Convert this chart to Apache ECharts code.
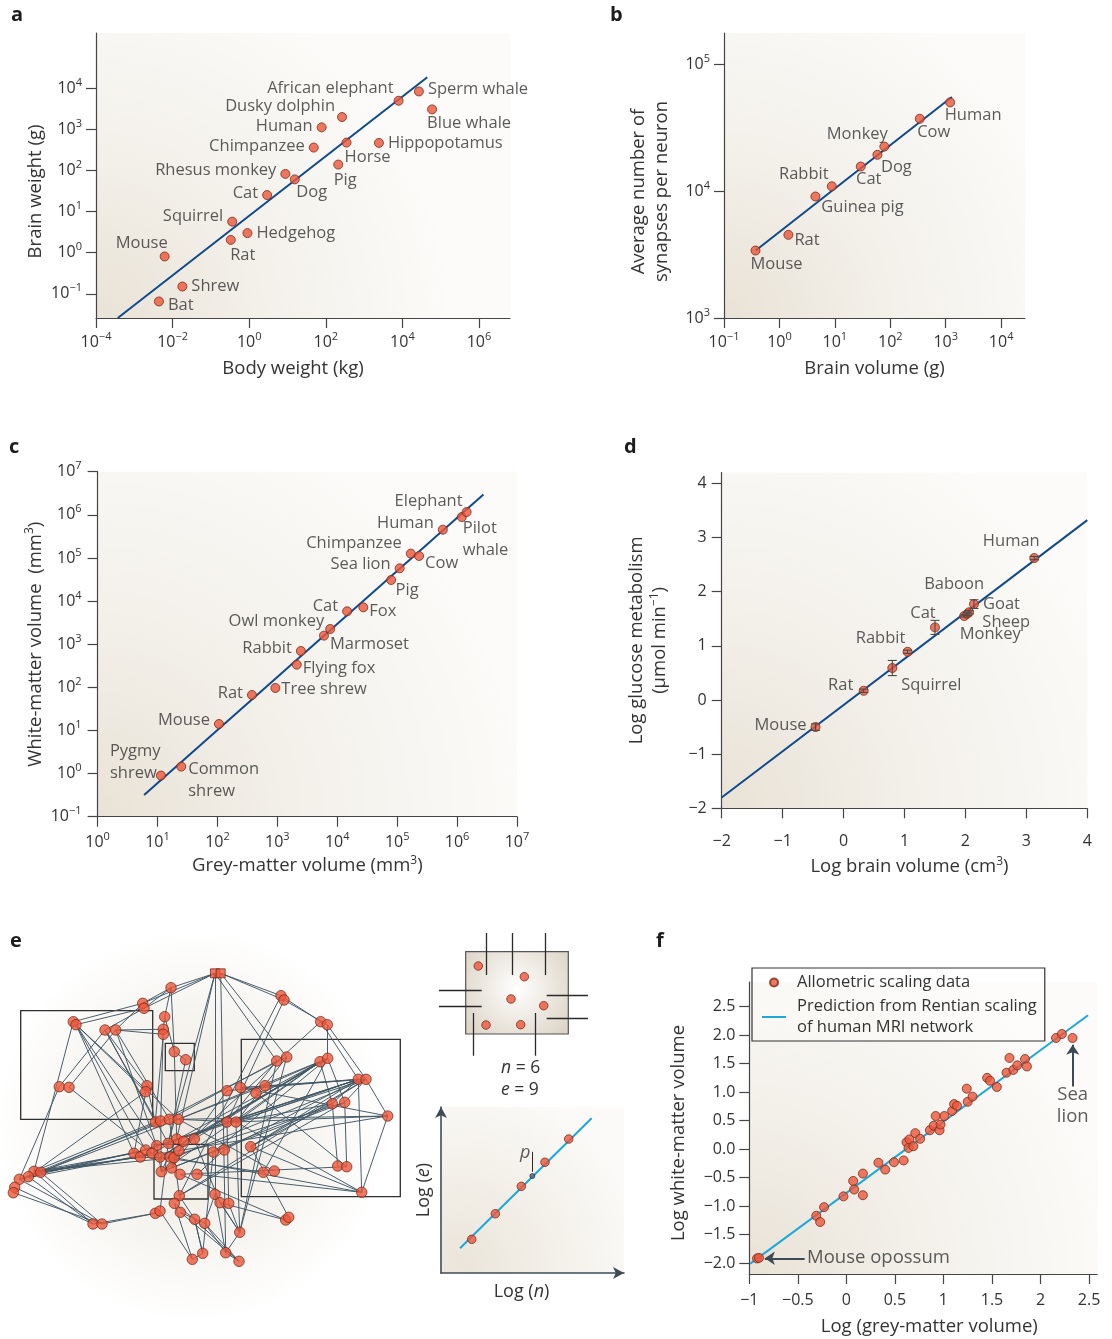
<!DOCTYPE html>
<html><head><meta charset="utf-8">
<script src="https://cdn.jsdelivr.net/npm/echarts@6/dist/echarts.min.js"></script>
<style>html,body{margin:0;padding:0;background:#fff}#c{width:1112px;height:1339px}</style>
</head><body><div id="c"></div>
<script>
// ================= DATA =================
// Panel a: body weight (kg) vs brain weight (g)
const aNames = ['Bat','Shrew','Mouse','Rat','Squirrel','Hedgehog','Cat','Rhesus monkey','Dog','Chimpanzee','Human','Dusky dolphin','Pig','Horse','Hippopotamus','African elephant','Sperm whale','Blue whale'];
const aBody  = [0.0044,0.018,0.0062,0.33,0.36,0.9,2.94,8.8,15.5,48.4,78,265,211,348,2440,7960,27000,59600];
const aBrain = [0.065,0.15,0.81,2.05,5.7,3.0,25.3,83,61,363,1130,2010,140,480,471,5010,8450,3090];
const aFitX = [0.00037,44700], aFitY = [0.0257,18800];
const aTicksX = [-4,-2,0,2,4,6], aTicksY = [-1,0,1,2,3,4];

// Panel b: brain volume (g) vs synapses per neuron
const bNames = ['Mouse','Rat','Guinea pig','Rabbit','Cat','Dog','Monkey','Cow','Human'];
const bVol   = [0.37,1.45,4.45,8.8,29.3,58.5,78,340,1200];
const bSyn   = [3400,4520,9060,10900,15600,19300,22400,37100,49900];
const bFitX = [0.373,1290], bFitY = [3400,55000];
const bTicksX = [-1,0,1,2,3,4], bTicksY = [3,4,5];

// Panel c: grey-matter vs white-matter volume (mm3)
const cNames = ['Pygmy\nshrew','Common\nshrew','Mouse','Rat','Tree shrew','Flying fox','Rabbit','Marmoset','Owl monkey','Cat','Fox','Pig','Sea lion','Chimpanzee','Cow','Human','Pilot\nwhale','Elephant'];
const cGrey  = [11.4,24.9,106,377,927,2110,2470,6000,7620,14600,27200,79300,110000,169000,232000,578000,1197000,1442000];
const cWhite = [0.90,1.45,14.1,66.4,96.6,335,695,1580,2250,5780,7160,30800,57400,126000,111000,452000,889000,1161000];
const cFitX = [5.97,2754000], cFitY = [0.319,2979000];
const cTicksX = [0,1,2,3,4,5,6,7], cTicksY = [-1,0,1,2,3,4,5,6,7];

// Panel d: log brain volume vs log glucose metabolism (with error)
const dNames = ['Mouse','Rat','Squirrel','Rabbit','Cat','Monkey','Sheep','Baboon','Goat','Human'];
const dX   = [-0.46,0.33,0.80,1.05,1.50,1.98,2.03,2.06,2.14,3.13];
const dY   = [-0.50,0.17,0.59,0.89,1.34,1.55,1.59,1.62,1.77,2.62];
const dErr = [0.06,0.03,0.14,0.03,0.13,0.02,0.03,0.03,0.08,0.03];
const dFitX = [-2,4], dFitY = [-1.80,3.32];
const dTicks = [-2,-1,0,1,2,3,4];

// Panel f: log grey-matter vs log white-matter volume
const fX = [-0.92,-0.90,-0.31,-0.27,-0.23,-0.03,0.07,0.08,0.17,0.17,0.33,0.40,0.49,0.59,0.62,0.64,0.65,0.69,0.71,0.76,0.86,0.90,0.92,0.96,0.97,1.01,1.09,1.11,1.14,1.24,1.25,1.30,1.45,1.48,1.55,1.65,1.68,1.72,1.76,1.84,1.86,2.16,2.22,2.33];
const fY = [-1.92,-1.91,-1.17,-1.28,-1.02,-0.83,-0.56,-0.71,-0.43,-0.81,-0.24,-0.36,-0.23,-0.20,0.12,0.02,0.17,0.05,0.28,0.18,0.33,0.41,0.58,0.33,0.43,0.58,0.67,0.79,0.76,1.06,0.83,0.92,1.25,1.20,1.09,1.34,1.60,1.39,1.47,1.58,1.45,1.95,2.02,1.95];
const fFitX = [-0.99,2.49], fFitY = [-2.01,2.35];
const fTicksX = [-1,-0.5,0,0.5,1,1.5,2,2.5], fTicksY = [-2,-1.5,-1,-0.5,0,0.5,1,1.5,2,2.5];

// Panel e: network layout (node positions in layout units), hubs, edges, partition boxes
const netNodes = [[215,43.3],[220.7,43.3],[171,57.7],[142.7,73.3],[144,78.3],[281,65.7],[284,70],[73.3,91.7],[76,94.7],[105,100],
[115.7,100],[164.7,86.7],[163.3,99.3],[163.3,104.3],[320.7,91.7],[327.3,94.7],[174.3,121.7],[185.7,129.7],[276.7,131],[286.7,127],
[320,131.7],[327.7,128.3],[358.3,149.3],[366,149.3],[59.3,156.7],[69,157.3],[147,155.7],[145.7,161.7],[227,160.7],[240.7,157.7],
[265,155.7],[256,163],[332.3,173.7],[344.7,172.3],[387.7,186],[155.3,192],[160.7,191],[169.3,189.3],[178.3,189.3],[227,192],
[236,192],[176.7,209],[183.7,211.3],[194.3,209],[156.7,215.7],[168.3,213.3],[213.3,222],[224.3,220],[250.7,216.7],[134,223.3],
[140.3,227],[145.7,220],[152,223.3],[160,227],[170,227],[174,227.7],[179,220.7],[337.7,236],[346.7,236.7],[34,241.3],
[40.7,242.3],[28.3,246.7],[19.3,249.3],[14.7,257.3],[13.3,262.7],[161.3,241.7],[171.7,238],[180,244.3],[197,244.3],[263.3,242.3],
[274.3,241],[361.7,262.3],[179.3,265.7],[215,264.3],[220,272.7],[228.7,273.3],[174.3,273.3],[155.3,283.3],[160,281],[180.3,282.3],
[194.7,289.3],[204.7,293.3],[285.7,290],[288.7,287.3],[93,294],[102,294],[239.7,302.3],[202.7,323.3],[225.7,322.7],[192.3,329.3],
[239,331.3]];
const netHubs = [0,1];
const netEdges = [[0,2],[0,3],[0,4],[1,5],[1,6],[1,19],[0,18],[1,88],[0,73],[0,45],[0,41],[2,3],[2,4],[2,16],[2,11],
[3,7],[4,8],[3,10],[4,9],[7,59],[8,27],[8,44],[10,12],[10,13],[9,35],[10,37],[9,45],[10,44],[5,14],[6,15],[6,39],[5,72],
[14,22],[15,23],[15,21],[23,34],[22,71],[22,32],[23,33],[22,40],[22,39],[23,48],[22,29],[34,71],[34,40],[34,38],
[20,32],[21,33],[20,40],[21,38],[18,39],[19,40],[18,37],[19,36],[18,86],[16,17],[17,45],[16,41],[11,16],[11,12],
[13,35],[12,36],[26,9],[27,61],[26,35],[24,9],[25,10],[25,52],[24,62],[28,22],[29,23],[28,66],[29,34],[30,20],[31,58],[30,38],
[32,57],[33,58],[32,40],[35,59],[36,60],[37,62],[38,40],[37,72],[36,65],[40,71],[39,75],[40,86],[41,22],[42,21],[43,20],[41,65],[43,74],
[46,21],[47,22],[46,87],[48,22],[48,83],[48,32],[49,59],[50,60],[51,61],[52,62],[49,26],[51,8],[50,53],[53,20],[54,33],[55,23],[56,14],
[59,84],[60,85],[61,84],[62,85],[63,84],[64,85],[59,60],[59,50],[60,51],[61,38],[59,55],[60,56],
[65,20],[66,32],[67,58],[68,71],[65,44],[66,42],[68,47],[69,53],[70,38],[69,21],[71,55],[71,48],[72,33],[72,23],[72,80],
[73,81],[74,86],[75,86],[73,88],[74,82],[76,80],[76,89],[77,84],[78,45],[79,90],[79,81],[80,87],[81,88],[80,90],[81,90],[82,67],
[85,77],[86,88],[86,73],[86,19],[87,89],[88,90],[87,80],[89,78],[22,49],[23,51],[34,56],[20,52],[21,53],[33,65],[8,38],[8,49]];
const netBoxes = [[[20.7,80.7],[152.7,189.3]],[[165.3,113.3],[194.3,140.7]],[[154,214.3],[208,269]],[[241.3,109.3],[400.3,266.7]]];

// Panel e inset: partition schematic (n = 6, e = 9)
const insetNodes = [[478.3,966],[524.3,976.7],[511,999],[543.7,1005.7],[486,1025],[520.7,1024.7]];
const insetCut = [[[486.7,933],[486.7,975]],[[512,933],[512,975]],[[545,933],[545,975]],[[439,990],[481.7,990]],[[439,1006],[481.7,1006]],
[[546.7,995.7],[588,995.7]],[[546.7,1018.3],[588,1018.3]],[[473.3,1013],[473.3,1055.7]],[[535,1013],[535,1055.7]]];
const insetBox = [[465.7,951.7],[568.3,1034]];
// Panel e Rent plot: log(n) vs log(e)
const rentX = [1.68,2.97,4.39,5.68,6.98], rentY = [2.03,3.57,5.22,6.67,8.07];
const rentFitX = [1.04,8.23], rentFitY = [1.49,9.32];
const rentP = [4.99,5.84];

// ================= STYLE =================
const FONT = 'Open Sans';
const TXT = '#333333';
const AX = '#454545';
const RED = '#ec5639', RED_B = '#7c2a18';
const NAVY = '#0e4a8c', CYAN = '#1ba8dc';
const supRich = { s: { fontSize: 11, fontFamily: FONT, color: TXT, verticalAlign: 'top', lineHeight: 12 } };
const nameRich = { s: { fontSize: 12, fontFamily: FONT, color: TXT, verticalAlign: 'top', lineHeight: 12 } };
const plotBg = { type: 'radial', x: 0, y: 1, r: 1.25, colorStops: [
  { offset: 0, color: '#e9e2d6' }, { offset: 0.45, color: '#f3f0ea' }, { offset: 1, color: '#fcfbf9' }] };

const minus = v => (v < 0 ? '\u2212' : '') + Math.abs(v);
const powFmt = v => { const e = Math.round(v); return '10{s|' + minus(e) + '}'; };

function axis(o) {
  return {
    type: 'value', gridIndex: o.g, min: o.min, max: o.max,
    splitLine: { show: false },
    axisLine: { show: true, onZero: false, lineStyle: { color: AX, width: 1.2 } },
    axisTick: { show: true, length: 10, lineStyle: { color: AX, width: 1.2 }, customValues: o.vals },
    axisLabel: { show: true, margin: o.margin, customValues: o.vals, formatter: o.fmt, color: TXT, fontSize: 16,
      fontFamily: FONT, lineHeight: 22, rich: supRich, showMinLabel: true, showMaxLabel: true },
    name: o.name, nameLocation: 'middle', nameGap: o.gap,
    nameTextStyle: { color: TXT, fontSize: 18.5, fontFamily: FONT, lineHeight: 23, padding: o.pad || 0, rich: nameRich }
  };
}
function hidden(g, min, max, inv) {
  return { type: 'value', gridIndex: g, min: min, max: max, inverse: !!inv, show: false, splitLine: { show: false } };
}

function pts(xs, ys, names, labs, toLog) {
  return names.map((n, i) => {
    const l = labs[i];
    const lab = { position: l[0], offset: [l[1], l[2]] };
    if (l[3]) lab.align = l[3];
    return { name: n, value: toLog ? [Math.log10(xs[i]), Math.log10(ys[i])] : [xs[i], ys[i]], label: lab };
  });
}
const ptLabel = { show: true, formatter: '{b}', color: TXT, fontSize: 16.5, fontFamily: FONT, lineHeight: 22, distance: 4 };
const ptStyle = { color: RED, borderColor: RED_B, borderWidth: 1 };
function scatter(g, data, size) {
  return { type: 'scatter', xAxisIndex: g, yAxisIndex: g, data: data, symbolSize: size || 9, itemStyle: ptStyle,
    label: ptLabel, z: 4, silent: true };
}
function fit(g, xs, ys, toLog, color, name) {
  return { type: 'line', name: name, xAxisIndex: g, yAxisIndex: g, showSymbol: false, symbol: 'none', silent: true, z: 3,
    data: xs.map((x, i) => toLog ? [Math.log10(x), Math.log10(ys[i])] : [x, ys[i]]),
    itemStyle: { color: color }, lineStyle: { color: color, width: 2 } };
}

// label placement [position, dx, dy, align]
const aLab = [['right',0,4],['right',0,0],['inside',-23,-13],['inside',12,15],['left',0,-5],['right',0,0],['left',0,-2],['left',0,-4],
  ['inside',17,13],['left',0,-1],['left',0,-1],['left',2,-11],['inside',7,16],['inside',21,15],['right',0,0],['left',4,-12],['right',0,-2],['inside',37,14]];
const bLab = [['inside',21,14],['right',-3,5],['right',-3,11],['inside',-28,-12],['inside',8,13],['inside',19,12],['inside',-27,-12],['inside',14,14],['inside',23,13]];
const cLab = [['inside',-51,-13,'left'],['inside',7,14,'left'],['left',0,-4],['left',0,-2],['right',-3,1],['right',-3,4],['left',0,-3],['right',-3,9],
  ['left',3,-8],['left',0,-5],['right',-3,4],['inside',16,10],['left',0,-4],['left',0,-10],['right',-3,7],['left',0,-6],['inside',1,22,'left'],['inside',-38,-11]];
const dLab = [['left',0,-2],['inside',-23,-5],['inside',39,17],['inside',-27,-13],['inside',-12,-14],['inside',26,18],['inside',39,8],['inside',-15,-28],['right',0,0],['inside',-23,-17]];

const grids = [
  { left: 96, top: 33, width: 414, height: 285, show: true, backgroundColor: plotBg, borderWidth: 0 },
  { left: 724, top: 33, width: 301, height: 285, show: true, backgroundColor: plotBg, borderWidth: 0 },
  { left: 97.6, top: 471.7, width: 419.4, height: 345, show: true, backgroundColor: plotBg, borderWidth: 0 },
  { left: 721.7, top: 472.5, width: 365.6, height: 335.8, show: true, backgroundColor: plotBg, borderWidth: 0 },
  { left: 749.3, top: 982, width: 348, height: 292.3, show: true, backgroundColor: plotBg, borderWidth: 0 },
  { left: 0, top: 930, width: 420, height: 409, show: true, borderWidth: 0,
    backgroundColor: { type: 'radial', x: 0.46, y: 0.48, r: 0.48, colorStops: [{ offset: 0, color: '#eee8df' }, { offset: 0.6, color: '#f7f5f1' }, { offset: 1, color: '#ffffff' }] } },
  { left: 430, top: 925, width: 170, height: 140, show: false },
  { left: 441, top: 1107, width: 183, height: 166, show: true, borderWidth: 0,
    backgroundColor: { type: 'radial', x: 0.1, y: 0.95, r: 1.1, colorStops: [{ offset: 0, color: '#ebe5da' }, { offset: 1, color: '#fbfaf8' }] } }
];

const xAxes = [
  axis({ g: 0, min: -4, max: 6.81, vals: aTicksX, fmt: powFmt, margin: 13, name: 'Body weight (kg)', gap: 39, pad: [0, 20, 0, 0] }),
  axis({ g: 1, min: -1, max: 4.43, vals: bTicksX, fmt: powFmt, margin: 13, name: 'Brain volume (g)', gap: 39 }),
  axis({ g: 2, min: 0, max: 7, vals: cTicksX, fmt: powFmt, margin: 15, name: 'Grey-matter volume (mm{s|3})', gap: 38 }),
  axis({ g: 3, min: -2, max: 4, vals: dTicks, fmt: minus, margin: 22, name: 'Log brain volume (cm{s|3})', gap: 47, pad: [0, 0, 0, 10] }),
  axis({ g: 4, min: -1, max: 2.585, vals: fTicksX, fmt: minus, margin: 15, name: 'Log (grey-matter volume)', gap: 41, pad: [0, 0, 0, 12] }),
  hidden(5, 0, 420),
  hidden(6, 430, 600),
  { type: 'value', gridIndex: 7, min: 0, max: 10, splitLine: { show: false }, axisTick: { show: false }, axisLabel: { show: false },
    axisLine: { show: true, onZero: false, symbol: ['none', 'arrow'], symbolSize: [9, 11], lineStyle: { color: '#3e4c58', width: 1.6 } },
    name: 'Log ({i|n})', nameLocation: 'middle', nameGap: 10,
    nameTextStyle: { color: TXT, fontSize: 18, fontFamily: FONT, padding: [0, 22, 0, 0], rich: { i: { fontStyle: 'italic', fontSize: 18, fontFamily: FONT, color: TXT } } } }
];
const yAxes = [
  axis({ g: 0, min: -1.59, max: 5.35, vals: aTicksY, fmt: powFmt, margin: 14, name: 'Brain weight (g)', gap: 47, pad: [0, 32, 0, 0] }),
  axis({ g: 1, min: 3, max: 5.245, vals: bTicksY, fmt: powFmt, margin: 14, name: 'Average number of\nsynapses per neuron', gap: 51, pad: [0, 32, 0, 0] }),
  axis({ g: 2, min: -1, max: 7, vals: cTicksY, fmt: powFmt, margin: 16, name: 'White-matter volume  (mm{s|3})', gap: 50 }),
  axis({ g: 3, min: -2, max: 4.2, vals: dTicks, fmt: minus, margin: 15, name: 'Log glucose metabolism\n(\u03bcmol min{s|\u22121})', gap: 50 }),
  axis({ g: 4, min: -2.193, max: 2.933, vals: fTicksY, fmt: v => (v < 0 ? '\u2212' : '') + Math.abs(v).toFixed(1), margin: 14, name: 'Log white-matter volume', gap: 59, pad: [0, 10, 0, 0] }),
  hidden(5, 0, 409, true),
  hidden(6, 925, 1065, true),
  { type: 'value', gridIndex: 7, min: 0, max: 10, splitLine: { show: false }, axisTick: { show: false }, axisLabel: { show: false },
    axisLine: { show: true, onZero: false, symbol: ['none', 'arrow'], symbolSize: [9, 11], lineStyle: { color: '#3e4c58', width: 1.6 } },
    name: 'Log ({i|e})', nameLocation: 'middle', nameGap: 8,
    nameTextStyle: { color: TXT, fontSize: 18, fontFamily: FONT, rich: { i: { fontStyle: 'italic', fontSize: 18, fontFamily: FONT, color: TXT } } } }
];

const series = [];
// a
series.push(fit(0, aFitX, aFitY, true, NAVY));
series.push(scatter(0, pts(aBody, aBrain, aNames, aLab, true)));
// b
series.push(fit(1, bFitX, bFitY, true, NAVY));
series.push(scatter(1, pts(bVol, bSyn, bNames, bLab, true)));
// c
series.push(fit(2, cFitX, cFitY, true, NAVY));
series.push(scatter(2, pts(cGrey, cWhite, cNames, cLab, true)));
// d
series.push(fit(3, dFitX, dFitY, false, NAVY));
series.push(scatter(3, pts(dX, dY, dNames, dLab, false)));
series.push({ type: 'custom', xAxisIndex: 3, yAxisIndex: 3, z: 5, silent: true,
  data: dX.map((x, i) => [x, dY[i] - dErr[i], dY[i] + dErr[i]]),
  renderItem: (params, api) => {
    const x = api.value(0), lo = api.coord([x, api.value(1)]), hi = api.coord([x, api.value(2)]), w = 4.5;
    const st = { stroke: '#4a4a4a', lineWidth: 1.1 };
    return { type: 'group', children: [
      { type: 'line', shape: { x1: lo[0], y1: lo[1], x2: hi[0], y2: hi[1] }, style: st },
      { type: 'line', shape: { x1: lo[0] - w, y1: lo[1], x2: lo[0] + w, y2: lo[1] }, style: st },
      { type: 'line', shape: { x1: hi[0] - w, y1: hi[1], x2: hi[0] + w, y2: hi[1] }, style: st }] };
  } });
// f
series.push(fit(4, fFitX, fFitY, false, CYAN, 'Prediction from Rentian scaling\nof human MRI network'));
series.push({ type: 'scatter', name: 'Allometric scaling data', xAxisIndex: 4, yAxisIndex: 4, symbolSize: 9, itemStyle: ptStyle, z: 4, silent: true,
  data: fX.map((x, i) => [x, fY[i]]) });
series.push({ type: 'lines', coordinateSystem: 'cartesian2d', xAxisIndex: 4, yAxisIndex: 4, silent: true, z: 5,
  symbol: ['none', 'arrow'], symbolSize: 10, lineStyle: { color: '#3d4a55', width: 2, opacity: 1 },
  data: [{ coords: [[-0.43, -1.917], [-0.84, -1.917]] }, { coords: [[2.332, 1.10], [2.332, 1.83]] }] });
series.push({ type: 'scatter', xAxisIndex: 4, yAxisIndex: 4, symbolSize: 1, itemStyle: { color: 'rgba(0,0,0,0)' }, silent: true, z: 5,
  label: { show: true, formatter: '{b}', color: TXT, fontSize: 18.5, fontFamily: FONT, lineHeight: 22 },
  data: [{ name: 'Mouse opossum', value: [-0.42, -1.913], label: { position: 'right', distance: 1 } },
         { name: 'Sea\nlion', value: [2.332, 0.76], label: { position: 'inside' } }] });
// e network
series.push({ type: 'lines', coordinateSystem: 'cartesian2d', xAxisIndex: 5, yAxisIndex: 5, silent: true, z: 2,
  lineStyle: { color: '#3f5564', width: 1, opacity: 0.95 },
  data: netEdges.map(([a, b]) => ({ coords: [netNodes[a], netNodes[b]] })) });
series.push({ type: 'scatter', xAxisIndex: 5, yAxisIndex: 5, symbolSize: 10.5, silent: true, z: 4,
  itemStyle: { color: RED, borderColor: '#6e2616', borderWidth: 0.9 },
  data: netNodes.filter((p, i) => netHubs.indexOf(i) < 0) });
series.push({ type: 'scatter', xAxisIndex: 5, yAxisIndex: 5, symbol: 'rect', symbolSize: 9, silent: true, z: 4,
  itemStyle: { color: RED, borderColor: '#6e2616', borderWidth: 0.9 },
  data: netHubs.map(i => netNodes[i]),
  markArea: { silent: true, itemStyle: { color: 'rgba(0,0,0,0)', borderColor: '#2f2f2f', borderWidth: 1.3 }, label: { show: false },
    data: netBoxes.map(b => [{ coord: b[0] }, { coord: b[1] }]) } });
// e inset partition
series.push({ type: 'scatter', xAxisIndex: 6, yAxisIndex: 6, symbolSize: 8.5, silent: true, z: 4, itemStyle: ptStyle,
  data: insetNodes,
  markArea: { silent: true, label: { show: false },
    itemStyle: { borderColor: '#555', borderWidth: 1.2, color: { type: 'radial', x: 0.5, y: 0.45, r: 0.75, colorStops: [{ offset: 0, color: '#ffffff' }, { offset: 1, color: '#ddd5c7' }] } },
    data: [[{ coord: insetBox[0] }, { coord: insetBox[1] }]] } });
series.push({ type: 'lines', coordinateSystem: 'cartesian2d', xAxisIndex: 6, yAxisIndex: 6, silent: true, z: 3,
  lineStyle: { color: '#2a2a2a', width: 1.3, opacity: 1 }, data: insetCut.map(c => ({ coords: c })) });
// e Rent plot
series.push(fit(7, rentFitX, rentFitY, false, CYAN));
series.push({ type: 'scatter', xAxisIndex: 7, yAxisIndex: 7, symbolSize: 8.5, silent: true, z: 4, itemStyle: ptStyle,
  data: rentX.map((x, i) => [x, rentY[i]]) });
series.push({ type: 'lines', coordinateSystem: 'cartesian2d', xAxisIndex: 7, yAxisIndex: 7, silent: true, z: 4,
  lineStyle: { color: '#2a2a2a', width: 1, opacity: 1 }, data: [{ coords: [[rentP[0], 7.3], [rentP[0], 6.1]] }] });
series.push({ type: 'scatter', xAxisIndex: 7, yAxisIndex: 7, symbolSize: 5, silent: true, z: 5,
  itemStyle: { color: '#56656f', borderColor: '#222', borderWidth: 0.8 },
  label: { show: true, formatter: 'p', position: 'inside', offset: [-7, -23], color: TXT, fontSize: 18, fontStyle: 'italic', fontFamily: FONT },
  data: [rentP] });

const letter = (t, x, y) => ({ type: 'text', left: x, top: y, style: { text: t, fill: '#1c1c1c', font: 'bold 20px "Open Sans"' } });
const itText = (t, x, y) => ({ type: 'text', left: x, top: y, style: { text: t, fill: TXT, font: '17.5px "Open Sans"',
  rich: { i: { fontStyle: 'italic', fontSize: 17.5, fontFamily: FONT, fill: TXT } } } });
const option = {
  animation: false,
  backgroundColor: '#ffffff',
  textStyle: { fontFamily: FONT },
  grid: grids,
  xAxis: xAxes,
  yAxis: yAxes,
  legend: {
    left: 752, top: 968, orient: 'vertical', align: 'left', itemGap: 3, itemWidth: 24, itemHeight: 8,
    padding: [4, 8, 3, 9], borderColor: '#333', borderWidth: 1.2, backgroundColor: 'rgba(255,255,255,0.3)',
    selectedMode: false,
    textStyle: { color: TXT, fontSize: 16.5, fontFamily: FONT, lineHeight: 21, padding: [0, 0, 0, 6] },
    data: [{ name: 'Allometric scaling data', icon: 'circle' },
           { name: 'Prediction from Rentian scaling\nof human MRI network', itemStyle: { opacity: 0 } }]
  },
  graphic: [
    letter('a', 11, 5), letter('b', 610, 5), letter('c', 9, 437), letter('d', 624, 437), letter('e', 10, 931), letter('f', 656, 931),
    itText('{i|n} = 6', 501, 1059),
    itText('{i|e} = 9', 501, 1081)
  ],
  series: series
};
const chart = echarts.init(document.getElementById('c'), null, { renderer: 'canvas', width: 1112, height: 1339 });
chart.setOption(option);
</script>
</body></html>
